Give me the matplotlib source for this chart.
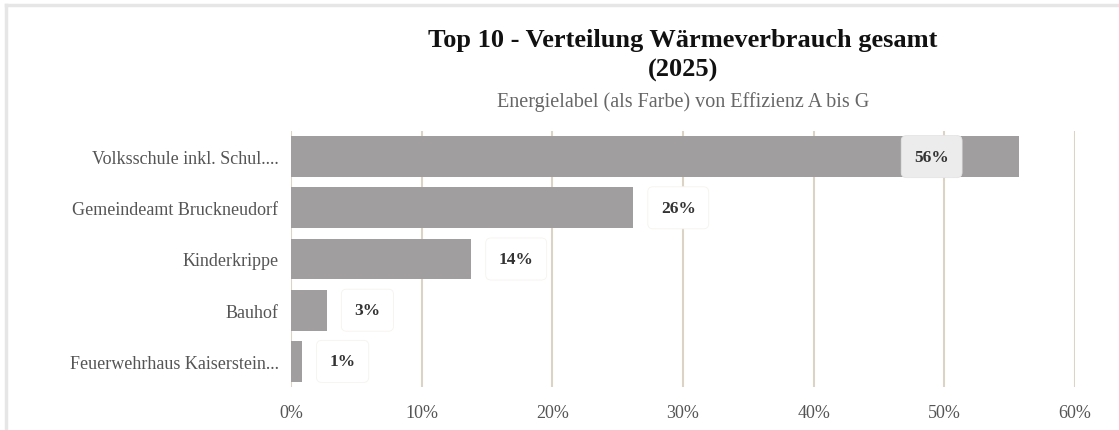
import matplotlib
matplotlib.use("Agg")
import matplotlib.pyplot as plt
from matplotlib.lines import Line2D

# Data
buildings = ["Volksschule inkl. Schul....", "Gemeindeamt Bruckneudorf", "Kinderkrippe",
             "Bauhof", "Feuerwehrhaus Kaiserstein..."]
shares = [55.7, 26.2, 13.8, 2.75, 0.85]
share_labels = ["56%", "26%", "14%", "3%", "1%"]
x_ticks = [0, 10, 20, 30, 40, 50, 60]

plt.rcParams["font.family"] = ["Liberation Serif", "DejaVu Serif"]

W, H = 1119, 431
fig = plt.figure(figsize=(W / 100, H / 100), dpi=100)

# light frame at the left and top edge
fig.add_artist(Line2D([5.5 / W, 5.5 / W], [0, 1 - 6 / H], color="#e6e6e6", lw=2.5, transform=fig.transFigure))
fig.add_artist(Line2D([5.5 / W, 1], [1 - 6 / H, 1 - 6 / H], color="#e6e6e6", lw=2.5, transform=fig.transFigure))

ax = fig.add_axes([291 / W, 1 - 388 / H, (1075 - 291) / W, (388 - 132) / H])

y = list(range(len(buildings)))
ax.barh(y, shares, height=0.8, color="#a09e9f", zorder=2)

ax.set_xlim(0, 60)
ax.set_ylim(len(buildings) - 0.5, -0.5)
ax.set_xticks(x_ticks)
ax.set_xticklabels([f"{t}%" for t in x_ticks])
ax.set_yticks(y)
ax.set_yticklabels(buildings)
ax.tick_params(axis="both", length=0, labelsize=13, colors="#555555")
ax.tick_params(axis="x", pad=12)
ax.tick_params(axis="y", pad=9)
ax.grid(axis="x", color="#dbd3c5", lw=1.5, zorder=0)
for s in ax.spines.values():
    s.set_visible(False)

for i, (v, lab) in enumerate(zip(shares, share_labels)):
    if v > 40:
        ax.text(v - 8.0, i, lab, ha="left", va="center", fontsize=12.5, fontweight="bold",
                color="#333333", zorder=4,
                bbox=dict(boxstyle="round,pad=0.75,rounding_size=0.3", fc="#ececec", ec="#e4e4e4", lw=0.6))
    else:
        ax.text(v + 2.1, i, lab, ha="left", va="center", fontsize=12.5, fontweight="bold",
                color="#333333", zorder=4,
                bbox=dict(boxstyle="round,pad=0.75,rounding_size=0.3", fc="white", ec="#f6f3ee", lw=0.6))

cx = (291 + 1075) / 2 / W
fig.text(cx, 1 - 40 / H, "Top 10 - Verteilung Wärmeverbrauch gesamt", ha="center", va="center",
         fontsize=19, fontweight="bold", color="#111111")
fig.text(cx, 1 - 70 / H, "(2025)", ha="center", va="center",
         fontsize=19, fontweight="bold", color="#111111")
fig.text(cx, 1 - 102 / H, "Energielabel (als Farbe) von Effizienz A bis G", ha="center", va="center",
         fontsize=14.5, color="#666666")

fig.savefig("out.png", dpi=100)
